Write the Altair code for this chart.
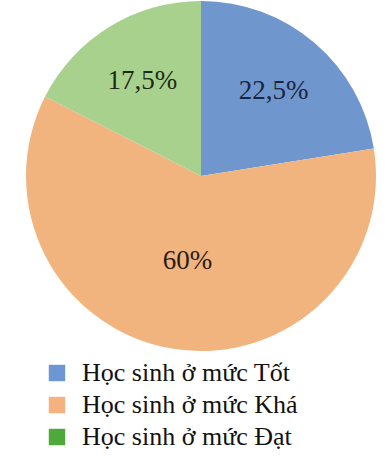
import altair as alt
import pandas as pd

# Share of pupils by achievement level
categories = ["Học sinh ở mức Tốt", "Học sinh ở mức Khá", "Học sinh ở mức Đạt"]
shares = [22.5, 60.0, 17.5]
share_labels = ["22,5%", "60%", "17,5%"]

slice_colors = ["#6f97cd", "#f2b47f", "#a9d18e"]
label_colors = ["#1b2540", "#2a1c12", "#1c2a17"]
key_colors = ["#6d96d4", "#f5b27f", "#4ea83a"]

SERIF = "Liberation Serif, Times New Roman, serif"

df = pd.DataFrame({
    "cat": categories,
    "share": shares,
    "label": share_labels,
    "idx": list(range(len(categories))),
})

cx, cy = 201, 176

# cumulative angles (in percent of the full turn) for every slice
base = alt.Chart(df).transform_window(
    end="sum(share)", sort=[alt.SortField("idx")], frame=[None, 0]
).transform_calculate(
    start="datum.end - datum.share",
    mid="datum.end - datum.share / 2",
    label_r="datum.idx == 1 ? 86 : 112",
)

theta_scale = alt.Scale(domain=[0, 100], range=[0, 6.283185307179586])

pie = base.mark_arc(radius=175, stroke=None).encode(
    theta=alt.Theta("start:Q", scale=theta_scale),
    theta2="end:Q",
    color=alt.Color(
        "cat:N",
        sort=categories,
        scale=alt.Scale(domain=categories, range=slice_colors),
        legend=None,
    ),
    x=alt.value(cx),
    y=alt.value(cy),
)

labels = base.mark_text(font=SERIF, fontSize=27).encode(
    theta=alt.Theta("mid:Q", scale=theta_scale),
    radius=alt.Radius("label_r:Q", scale=None),
    text="label:N",
    color=alt.Color(
        "cat:N",
        scale=alt.Scale(domain=categories, range=label_colors),
        legend=None,
    ),
    x=alt.value(cx),
    y=alt.value(cy),
)

# Key entries drawn from their own fill scale
key = alt.Chart(df).mark_square(size=0).encode(
    fill=alt.Fill(
        "cat:N",
        sort=categories,
        scale=alt.Scale(domain=categories, range=key_colors),
        legend=alt.Legend(
            title=None,
            orient="none",
            legendX=44,
            legendY=360,
            symbolType="square",
            symbolSize=270,
            symbolOpacity=1,
            symbolStrokeWidth=0,
            labelFont=SERIF,
            labelFontSize=26,
            labelColor="#111111",
            labelLimit=400,
            labelOffset=12,
            rowPadding=6,
        ),
    ),
    x=alt.value(cx),
    y=alt.value(cy),
)

chart = alt.layer(key, pie, labels).properties(
    width=390,
    height=457,
    padding=0,
    autosize=alt.AutoSizeParams(type="none"),
).resolve_scale(color="independent").configure_view(stroke=None)

chart.save("out.html", embed_options={"renderer": "svg", "actions": False})
